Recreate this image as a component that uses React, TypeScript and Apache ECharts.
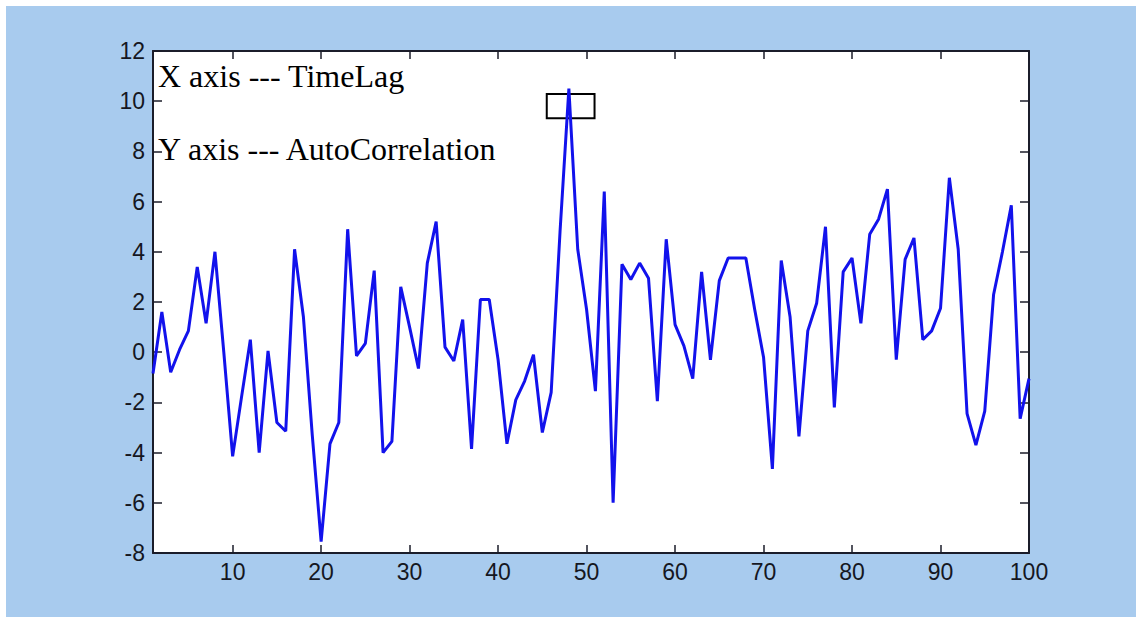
import React, { useEffect, useRef } from "react";
import * as echarts from "echarts";

const autoCorrelation: number[] = [
  -0.85, 1.6, -0.8, 0.1, 0.85, 3.4, 1.15, 4.0, 0.0, -4.15,
  -1.8, 0.5, -4.0, 0.05, -2.8, -3.15, 4.1, 1.4, -3.3, -7.55,
  -3.65, -2.8, 4.9, -0.15, 0.35, 3.25, -4.0, -3.55, 2.6, 1.0,
  -0.65, 3.55, 5.2, 0.2, -0.35, 1.3, -3.85, 2.1, 2.1, -0.3,
  -3.65, -1.9, -1.15, -0.1, -3.2, -1.6, 4.8, 10.5, 4.1, 1.7,
  -1.55, 6.4, -6.0, 3.5, 2.9, 3.55, 2.95, -1.95, 4.5, 1.1,
  0.25, -1.05, 3.2, -0.3, 2.85, 3.75, 3.75, 3.75, 1.7, -0.2,
  -4.65, 3.65, 1.4, -3.35, 0.85, 1.95, 5.0, -2.2, 3.2, 3.75,
  1.15, 4.7, 5.3, 6.5, -0.3, 3.7, 4.55, 0.5, 0.85, 1.75,
  6.95, 4.1, -2.45, -3.7, -2.35, 2.3, 4.0, 5.85, -2.65, -1.05,
];
const timeLags: number[] = autoCorrelation.map((_, k) => k + 1);
const xTickValues: number[] = [10, 20, 30, 40, 50, 60, 70, 80, 90, 100];
const xRange: number[] = [1, 100];
const yRange: number[] = [-8, 12];
const yStep = 2;
const annotationLines: string[] = ["X axis --- TimeLag", "Y axis --- AutoCorrelation"];
// highlight box in data coordinates: [xStart, yTop, xEnd, yBottom]
const highlightBox: number[] = [45.5, 10.29, 50.9, 9.32];

export default function App() {
  const ref = useRef<HTMLDivElement>(null);
  useEffect(() => {
    if (!ref.current) return;
    const chart = echarts.init(ref.current, null, { renderer: "svg" });
    const axisColor = "#1b1d2a";
    const labelFont = { fontFamily: "Liberation Sans, Arial, sans-serif", fontSize: 23, color: "#15171f" };
    const annFont = "32px 'Liberation Serif', 'Times New Roman', serif";
    chart.setOption({
      animation: false,
      backgroundColor: "#ffffff",
      graphic: [
        {
          type: "rect",
          z: -100,
          shape: { x: 6, y: 6, width: 1130, height: 611 },
          style: { fill: "#a8cbee" },
          silent: true,
        },
        {
          type: "text",
          z: 100,
          left: 158,
          top: 60,
          style: { text: annotationLines[0], font: annFont, fill: "#000000" },
        },
        {
          type: "text",
          z: 100,
          left: 158,
          top: 133,
          style: { text: annotationLines[1], font: annFont, fill: "#000000" },
        },
      ],
      grid: {
        left: 153,
        top: 51,
        right: 107,
        bottom: 64,
        show: true,
        backgroundColor: "#ffffff",
        borderWidth: 0,
      },
      xAxis: [
        {
          type: "value",
          min: xRange[0],
          max: xRange[1],
          position: "bottom",
          splitLine: { show: false },
          axisLine: { show: true, onZero: false, lineStyle: { color: axisColor, width: 2 } },
          axisTick: { show: true, inside: true, length: 8, customValues: xTickValues, lineStyle: { color: axisColor, width: 1.5 } },
          axisLabel: { show: true, margin: 7, customValues: xTickValues, ...labelFont },
        },
        {
          type: "value",
          min: xRange[0],
          max: xRange[1],
          position: "top",
          splitLine: { show: false },
          axisLine: { show: true, onZero: false, lineStyle: { color: axisColor, width: 2 } },
          axisTick: { show: true, inside: true, length: 8, customValues: xTickValues, lineStyle: { color: axisColor, width: 1.5 } },
          axisLabel: { show: false },
        },
      ],
      yAxis: [
        {
          type: "value",
          min: yRange[0],
          max: yRange[1],
          interval: yStep,
          position: "left",
          splitLine: { show: false },
          axisLine: { show: true, onZero: false, lineStyle: { color: axisColor, width: 2 } },
          axisTick: { show: true, inside: true, length: 9, lineStyle: { color: axisColor, width: 1.5 } },
          axisLabel: { show: true, margin: 8, ...labelFont },
        },
        {
          type: "value",
          min: yRange[0],
          max: yRange[1],
          interval: yStep,
          position: "right",
          splitLine: { show: false },
          axisLine: { show: true, onZero: false, lineStyle: { color: axisColor, width: 2 } },
          axisTick: { show: true, inside: true, length: 9, lineStyle: { color: axisColor, width: 1.5 } },
          axisLabel: { show: false },
        },
      ],
      series: [
        {
          type: "line",
          xAxisIndex: 0,
          yAxisIndex: 0,
          data: timeLags.map((t, k) => [t, autoCorrelation[k]]),
          showSymbol: false,
          symbol: "none",
          lineStyle: { color: "#1212ec", width: 3 },
          markArea: {
            silent: true,
            itemStyle: { color: "rgba(0,0,0,0)", borderColor: "#000000", borderWidth: 2 },
            data: [
              [
                { coord: [highlightBox[0], highlightBox[1]] },
                { coord: [highlightBox[2], highlightBox[3]] },
              ],
            ],
          },
        },
      ],
    });
    return () => chart.dispose();
  }, []);
  return (
    <div
      ref={ref}
      style={{ position: "absolute", left: 0, top: 0, width: 1136, height: 617, background: "#ffffff" }}
    />
  );
}
